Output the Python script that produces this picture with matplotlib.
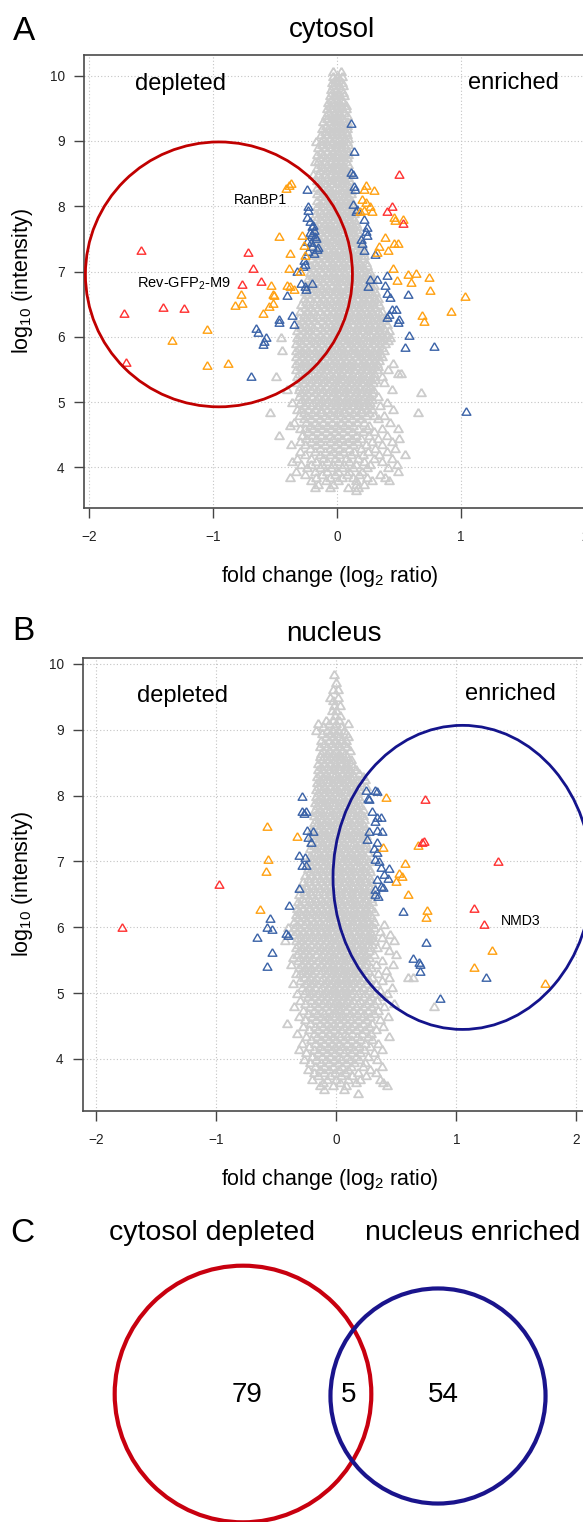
import matplotlib
matplotlib.use('Agg')
import matplotlib.pyplot as plt
from matplotlib.patches import Ellipse, Circle
import numpy as np

plt.rcParams['font.family'] = ['Liberation Sans', 'DejaVu Sans']
plt.rcParams['mathtext.fontset'] = 'custom'
plt.rcParams['mathtext.rm'] = 'Liberation Sans'
plt.rcParams['mathtext.it'] = 'Liberation Sans:italic'
plt.rcParams['mathtext.bf'] = 'Liberation Sans:bold'

# ---------------- data ----------------
x_ticks = [-2, -1, 0, 1, 2]
x_tick_labels = ['\u22122', '\u22121', '0', '1', '2']
y_ticks = [4, 5, 6, 7, 8, 9, 10]

# background proteins, cytosol: intensity level -> fold changes (x100)
gray_a_rows = {
    10.07: [-3, 3], 10.0: [-3, 1, 4], 9.95: [-2, 2], 9.9: [-4, 0, 4], 9.85: [-3, 2, 5],
    9.8: [-5, -1, 3], 9.75: [-4, 1, 5], 9.7: [-6, -2, 2, 6], 9.65: [-5, 0, 4],
    9.6: [-7, -3, 1, 5], 9.55: [-6, -1, 3, 7], 9.5: [-8, -4, 0, 4, 7], 9.45: [-7, -2, 2, 6],
    9.4: [-9, -5, -1, 3, 8], 9.35: [-8, -3, 1, 5], 9.3: [-11, -6, -2, 2, 6, 8],
    9.25: [-9, -4, 0, 4, 8], 9.2: [-12, -7, -3, 1, 5, 8], 9.15: [-10, -5, -1, 3, 7],
    9.1: [-13, -8, -4, 0, 4, 8], 9.05: [-11, -6, -2, 2, 6, 9], 9.0: [-17, -13, -9, -4, 0, 4, 8],
    8.95: [-12, -7, -2, 2, 6, 9], 8.9: [-15, -10, -5, -1, 3, 7], 8.85: [-13, -8, -3, 1, 5, 9],
    8.8: [-16, -11, -6, -2, 2, 6, 9], 8.75: [-14, -9, -4, 0, 4, 8], 8.7: [-18, -15, -10, -5, -1, 3, 7],
    8.65: [-13, -8, -3, 1, 5, 9], 8.6: [-16, -11, -6, -2, 2, 6], 8.55: [-14, -9, -4, 0, 4, 8],
    8.5: [-19, -15, -10, -5, -1, 3, 7, 10], 8.45: [-13, -8, -3, 1, 5, 9],
    8.4: [-16, -11, -6, -2, 2, 6, 10], 8.35: [-14, -9, -4, 0, 4, 8],
    8.3: [-16, -12, -7, -2, 2, 6, 10], 8.25: [-14, -9, -5, 0, 4, 8, 11],
    8.2: [-16, -11, -6, -2, 2, 7, 11], 8.15: [-13, -8, -4, 0, 5, 9],
    8.1: [-16, -11, -6, -1, 3, 7, 11], 8.05: [-14, -9, -4, 1, 5, 9, 12],
    8.0: [-16, -12, -7, -2, 2, 6, 10, 13], 7.95: [-14, -9, -5, 0, 4, 8, 12],
    7.9: [-17, -12, -7, -3, 2, 6, 10, 14], 7.85: [-15, -10, -5, -1, 3, 8, 12],
    7.8: [-17, -13, -8, -3, 1, 5, 10, 14], 7.75: [-15, -10, -6, -1, 3, 7, 12, 15],
    7.7: [-17, -12, -8, -4, 1, 5, 9, 13, 16], 7.65: [-15, -10, -6, -2, 3, 7, 11, 15],
    7.6: [-18, -13, -8, -4, 0, 5, 9, 13, 17], 7.55: [-16, -11, -6, -2, 2, 7, 11, 15],
    7.5: [-18, -14, -9, -4, 0, 4, 9, 13, 17, 19], 7.45: [-16, -11, -7, -2, 2, 6, 11, 15, 18],
    7.4: [-19, -14, -9, -5, 0, 4, 8, 13, 17, 20], 7.35: [-17, -12, -7, -3, 2, 6, 10, 15, 19],
    7.3: [-19, -15, -10, -5, -1, 4, 8, 12, 17, 21], 7.25: [-17, -12, -8, -3, 1, 6, 10, 14, 19, 22],
    7.2: [-20, -15, -10, -6, -1, 3, 8, 12, 16, 21], 7.15: [-18, -13, -8, -4, 1, 5, 10, 14, 18, 23],
    7.1: [-21, -16, -11, -6, -2, 3, 7, 12, 16, 20, 24], 7.05: [-19, -14, -9, -4, 0, 5, 9, 14, 18, 22],
    7.0: [-22, -17, -12, -7, -3, 2, 6, 11, 15, 20, 24, 27],
    6.95: [-20, -15, -10, -5, -1, 4, 8, 13, 17, 22, 26],
    6.9: [-23, -18, -13, -8, -3, 1, 6, 10, 15, 19, 24, 28],
    6.85: [-21, -16, -11, -6, -1, 3, 8, 12, 17, 21, 26],
    6.8: [-24, -19, -14, -9, -4, 0, 5, 9, 14, 18, 23, 27, 30],
    6.75: [-22, -17, -12, -7, -2, 2, 7, 11, 16, 20, 25, 29],
    6.7: [-26, -21, -15, -10, -5, -1, 4, 8, 13, 17, 22, 26, 31],
    6.65: [-24, -18, -13, -8, -3, 2, 6, 11, 15, 20, 24, 29],
    6.6: [-27, -22, -16, -11, -6, -1, 3, 8, 12, 17, 21, 26, 30, 33],
    6.55: [-25, -19, -14, -9, -4, 1, 5, 10, 14, 19, 23, 28, 32],
    6.5: [-29, -23, -18, -12, -7, -2, 2, 7, 11, 16, 20, 25, 29, 34],
    6.45: [-26, -21, -15, -10, -5, 0, 4, 9, 13, 18, 22, 27, 31],
    6.4: [-30, -24, -19, -14, -8, -3, 1, 6, 10, 15, 19, 24, 28, 33, 36],
    6.35: [-27, -22, -17, -11, -6, -1, 3, 8, 12, 17, 21, 26, 30, 35],
    6.3: [-31, -25, -20, -15, -9, -4, 0, 5, 9, 14, 18, 23, 27, 32, 36, 39],
    6.25: [-28, -23, -18, -12, -7, -2, 2, 7, 11, 16, 20, 25, 29, 34, 38],
    6.2: [-31, -26, -21, -16, -10, -5, -1, 4, 8, 13, 17, 22, 26, 31, 35, 40],
    6.15: [-29, -24, -19, -13, -8, -3, 1, 6, 10, 15, 19, 24, 28, 33, 37],
    6.1: [-32, -27, -22, -17, -11, -6, -2, 3, 7, 12, 16, 21, 25, 30, 34, 39, 42],
    6.05: [-30, -25, -20, -14, -9, -4, 0, 5, 9, 14, 18, 23, 27, 32, 36, 40],
    6.0: [-45, -32, -27, -22, -16, -11, -6, -2, 3, 7, 12, 16, 21, 25, 30, 34, 38, 43],
    5.95: [-30, -25, -19, -14, -9, -4, 0, 5, 9, 14, 18, 23, 27, 31, 36, 41],
    5.9: [-33, -28, -22, -17, -12, -7, -3, 2, 7, 11, 16, 20, 25, 29, 34, 39],
    5.85: [-31, -26, -20, -15, -10, -5, 0, 4, 9, 13, 18, 22, 27, 32, 36],
    5.8: [-44, -33, -28, -23, -18, -13, -8, -3, 2, 6, 11, 15, 20, 24, 29, 34, 38],
    5.75: [-31, -26, -21, -16, -11, -6, -1, 4, 8, 13, 17, 22, 27, 31, 35],
    5.7: [-33, -28, -23, -18, -14, -9, -4, 1, 5, 10, 15, 19, 24, 28, 33, 36],
    5.65: [-31, -26, -21, -16, -11, -6, -2, 3, 7, 12, 17, 21, 26, 30, 34],
    5.6: [-33, -28, -24, -19, -14, -9, -4, 0, 5, 10, 14, 19, 23, 28, 32, 45],
    5.55: [-30, -25, -21, -16, -11, -7, -2, 3, 7, 12, 16, 21, 25, 30, 33],
    5.5: [-33, -28, -23, -18, -13, -9, -4, 1, 5, 10, 14, 19, 24, 28, 32, 41],
    5.45: [-31, -26, -20, -15, -11, -6, -1, 3, 8, 12, 17, 21, 26, 30, 49, 52],
    5.4: [-49, -32, -27, -22, -17, -12, -7, -3, 2, 6, 11, 16, 20, 25, 29, 36],
    5.35: [-30, -25, -20, -15, -10, -5, 0, 4, 9, 13, 18, 22, 27, 31],
    5.3: [-32, -27, -22, -17, -12, -7, -2, 2, 7, 11, 16, 20, 25, 29, 38],
    5.25: [-30, -24, -19, -14, -9, -4, 0, 5, 9, 14, 18, 23, 27],
    5.2: [-40, -31, -26, -21, -16, -11, -6, -2, 3, 7, 12, 16, 21, 25, 29, 44],
    5.15: [-29, -24, -18, -13, -8, -3, 1, 6, 10, 15, 19, 24, 28, 68],
    5.1: [-31, -26, -20, -15, -10, -5, -1, 4, 8, 13, 17, 22, 26, 33],
    5.05: [-28, -23, -17, -12, -7, -2, 2, 7, 11, 16, 20, 25, 28],
    5.0: [-36, -30, -25, -19, -14, -9, -4, 0, 5, 9, 14, 18, 23, 27, 40],
    4.95: [-27, -21, -16, -11, -6, -1, 3, 8, 12, 17, 21, 26, 35],
    4.9: [-32, -29, -23, -18, -13, -8, -3, 1, 6, 10, 15, 19, 24, 28, 45],
    4.85: [-54, -27, -20, -13, -6, 0, 6, 13, 19, 26, 65],
    4.8: [-31, -24, -17, -10, -3, 3, 10, 16, 23, 30, 38],
    4.75: [-27, -21, -14, -7, -1, 6, 12, 19, 33],
    4.7: [-35, -25, -18, -11, -4, 3, 9, 16, 22, 43],
    4.65: [-38, -22, -15, -8, -1, 6, 13, 26],
    4.6: [-30, -26, -19, -12, -5, 2, 9, 17, 24, 36, 49],
    4.55: [-23, -16, -9, -2, 5, 12, 21, 30],
    4.5: [-47, -28, -20, -13, -6, 1, 8, 15, 26, 40],
    4.45: [-25, -17, -10, -3, 4, 12, 19, 33, 50],
    4.4: [-30, -21, -14, -6, 1, 9, 16, 28, 44],
    4.35: [-37, -26, -17, -10, -2, 6, 13, 23, 36],
    4.3: [-22, -14, -6, 2, 10, 19, 31, 47],
    4.25: [-30, -18, -10, -3, 5, 14, 25, 40],
    4.2: [-26, -14, -6, 2, 11, 21, 34, 55],
    4.15: [-32, -21, -11, -2, 7, 17, 30, 44],
    4.1: [-36, -17, -8, 1, 10, 22, 36],
    4.05: [-29, -21, -12, -3, 6, 15, 27, 48],
    4.0: [-24, -14, -5, 4, 13, 24, 41],
    3.95: [-33, -18, -8, 1, 10, 20, 49],
    3.9: [-26, -12, -2, 8, 18, 35],
    3.85: [-38, -17, -6, 4, 13, 24, 39],
    3.8: [-21, -9, 1, 15, 28, 42],
    3.75: [-15, -3, 15, 22],
    3.7: [-18, -6, 9, 17],
    3.65: [15],
}

blue_a_x = [0.11, 0.14, 0.115, 0.13, 0.135, 0.145, -0.24, 0.125, 0.16, 0.15, 0.215, 0.245, 0.235,
            0.245, 0.19, 0.205, 0.22, 0.305, -0.23, -0.235, -0.245, -0.215, -0.2, -0.185, -0.205,
            -0.17, -0.245, -0.2, -0.155, -0.23, -0.185, -0.26, -0.275, -0.32, -0.29, -0.26, -0.205,
            -0.25, -0.40, -0.47, -0.47, -0.36, -0.35, -0.655, -0.64, -0.57, -0.59, -0.60, -0.695,
            0.405, 0.325, 0.265, 0.25, 0.385, 0.40, 0.425, 0.575, 0.445, 0.475, 0.42, 0.405, 0.50,
            0.49, 0.58, 0.545, 0.78, 1.04, -0.16, -0.18, -0.19, -0.22, -0.21, -0.265]
blue_a_y = [9.27, 8.85, 8.53, 8.49, 8.31, 8.26, 8.27, 8.03, 7.96, 7.92, 7.81, 7.68, 7.62,
            7.56, 7.50, 7.43, 7.33, 7.27, 8.0, 7.95, 7.83, 7.77, 7.69, 7.64, 7.57,
            7.52, 7.47, 7.39, 7.37, 7.31, 7.29, 7.11, 7.08, 7.01, 6.83, 6.78, 6.83,
            6.73, 6.64, 6.28, 6.23, 6.33, 6.19, 6.13, 6.08, 5.99, 5.94, 5.89, 5.40,
            6.94, 6.88, 6.88, 6.78, 6.79, 6.67, 6.61, 6.66, 6.42, 6.42, 6.35, 6.31, 6.27,
            6.22, 6.03, 5.85, 5.86, 4.87, 7.35, 7.55, 7.72, 7.60, 7.45, 7.17]

orange_a_x = [-0.41, -0.39, -0.37, -0.47, -0.28, -0.38, -0.27, -0.26, -0.39, -0.30, -0.535, -0.40,
              -0.38, -0.35, -0.515, -0.775, -0.765, -0.82, -0.51, -0.545, -0.52, -0.595, -1.045,
              -1.33, -1.05, -0.875, 0.235, 0.22, 0.295, 0.205, 0.235, 0.265, 0.22, 0.185, 0.28,
              0.46, 0.465, 0.53, 0.385, 0.46, 0.49, 0.34, 0.415, 0.325, 0.45, 0.575, 0.635, 0.74,
              0.485, 0.60, 0.75, 1.03, 0.92, 0.685, 0.70]
orange_a_y = [8.28, 8.33, 8.35, 7.54, 7.56, 7.29, 7.40, 7.26, 7.06, 7.01, 6.80, 6.79,
              6.78, 6.73, 6.65, 6.65, 6.51, 6.49, 6.64, 6.47, 6.51, 6.36, 6.12,
              5.95, 5.57, 5.60, 8.33, 8.26, 8.25, 8.11, 8.06, 8.0, 7.94, 7.93, 7.92,
              7.84, 7.79, 7.81, 7.53, 7.44, 7.43, 7.39, 7.33, 7.30, 7.06, 6.96, 6.98, 6.92,
              6.87, 6.84, 6.71, 6.63, 6.39, 6.34, 6.24]

red_a_x = [0.50, 0.44, 0.405, 0.535, -1.58, -0.715, -0.68, -0.765, -0.61, -1.40, -1.23, -1.72, -1.70]
red_a_y = [8.50, 8.0, 7.92, 7.74, 7.33, 7.30, 7.06, 6.81, 6.85, 6.46, 6.44, 6.36, 5.62]

# background proteins, nucleus
gray_b_rows = {
    9.85: [-2], 9.72: [0], 9.62: [-3, 1], 9.5: [-5, 1], 9.45: [-3], 9.38: [-2, 3],
    9.3: [-4, 0], 9.22: [-1, 3], 9.15: [-9, -3, 2], 9.1: [-15, -6, 0, 10],
    9.05: [-11, -2, 4], 9.0: [-17, -8, -3, 1, 6], 8.95: [-12, -5, 0, 8],
    8.9: [-9, -3, 2, 10], 8.85: [-13, -6, -1, 4, 8], 8.8: [-10, -4, 1, 6],
    8.75: [-14, -8, -2, 3, 9], 8.7: [-11, -6, 0, 5, 11], 8.65: [-13, -8, -3, 2, 7],
    8.6: [-14, -10, -5, 0, 4, 9], 8.55: [-12, -7, -2, 3, 7, 12],
    8.5: [-15, -10, -5, -1, 4, 8, 12], 8.45: [-13, -8, -3, 1, 6, 10, 14],
    8.4: [-15, -11, -6, -2, 3, 7, 11, 16], 8.35: [-14, -9, -4, 0, 5, 9, 13, 19],
    8.3: [-16, -11, -7, -2, 2, 7, 11, 15, 22], 8.25: [-14, -9, -5, 0, 4, 9, 13, 18, 24],
    8.2: [-16, -12, -7, -3, 2, 6, 11, 15, 20], 8.15: [-15, -10, -5, -1, 4, 8, 13, 17, 25],
    8.1: [-17, -12, -8, -3, 1, 6, 10, 15, 19], 8.05: [-15, -10, -6, -1, 3, 8, 12, 17],
    8.0: [-17, -13, -8, -4, 1, 5, 10, 14, 18], 7.95: [-15, -11, -6, -2, 3, 7, 12, 16, 20],
    7.9: [-18, -13, -9, -4, 0, 5, 9, 14, 18], 7.85: [-16, -11, -7, -2, 2, 7, 11, 16, 20],
    7.8: [-18, -14, -9, -5, 0, 4, 9, 13, 18, 22], 7.75: [-16, -12, -7, -3, 2, 6, 11, 15, 20],
    7.7: [-19, -14, -10, -5, -1, 4, 8, 13, 17, 22], 7.65: [-17, -12, -8, -3, 1, 6, 10, 15, 19, 23],
    7.6: [-19, -15, -10, -6, -1, 3, 8, 12, 17, 21], 7.55: [-17, -13, -8, -4, 1, 5, 10, 14, 19, 23],
    7.5: [-20, -15, -11, -6, -2, 3, 7, 12, 16, 21, 24], 7.45: [-18, -13, -9, -4, 0, 5, 9, 14, 18, 23],
    7.4: [-20, -16, -11, -7, -2, 2, 7, 11, 16, 20, 25], 7.35: [-18, -14, -9, -5, 0, 4, 9, 13, 18, 22],
    7.3: [-21, -16, -12, -7, -3, 2, 6, 11, 15, 20, 24], 7.25: [-19, -14, -10, -5, -1, 4, 8, 13, 17, 22, 25],
    7.2: [-22, -17, -12, -8, -3, 1, 6, 10, 15, 19, 24], 7.15: [-19, -15, -10, -6, -1, 3, 8, 12, 17, 21, 26],
    7.1: [-22, -17, -13, -8, -4, 1, 5, 10, 14, 19, 23], 7.05: [-20, -15, -11, -6, -2, 3, 7, 12, 16, 21, 25],
    7.0: [-23, -18, -13, -9, -4, 0, 5, 9, 14, 18, 23, 27],
    6.95: [-21, -16, -11, -7, -2, 2, 7, 11, 16, 20, 25],
    6.9: [-24, -19, -14, -9, -5, 0, 4, 9, 13, 18, 22, 27],
    6.85: [-22, -17, -12, -7, -3, 2, 6, 11, 15, 20, 24, 28],
    6.8: [-26, -21, -16, -11, -6, -1, 3, 8, 12, 17, 21, 26],
    6.75: [-24, -19, -14, -9, -4, 1, 5, 10, 14, 19, 23, 28],
    6.7: [-28, -23, -18, -12, -7, -3, 2, 6, 11, 15, 20, 24, 29],
    6.65: [-25, -20, -15, -10, -5, 0, 4, 9, 13, 18, 22, 27],
    6.6: [-30, -25, -19, -14, -9, -4, 1, 5, 10, 14, 19, 23, 28],
    6.55: [-27, -22, -17, -11, -6, -2, 3, 7, 12, 16, 21, 25, 30],
    6.5: [-31, -26, -21, -15, -10, -5, -1, 4, 8, 13, 17, 22, 26],
    6.45: [-29, -23, -18, -13, -8, -3, 2, 6, 11, 15, 20, 24, 29],
    6.4: [-32, -27, -22, -17, -11, -6, -2, 3, 7, 12, 16, 21, 25, 30],
    6.35: [-30, -24, -19, -14, -9, -4, 0, 5, 9, 14, 18, 23, 27],
    6.3: [-33, -28, -23, -17, -12, -7, -3, 2, 6, 11, 15, 20, 24, 29],
    6.25: [-31, -25, -20, -15, -10, -5, -1, 4, 8, 13, 17, 22, 26, 31],
    6.2: [-34, -29, -24, -18, -13, -8, -4, 1, 5, 10, 14, 19, 23, 28],
    6.15: [-32, -26, -21, -16, -11, -6, -2, 3, 7, 12, 16, 21, 25, 30],
    6.1: [-35, -30, -25, -19, -14, -9, -5, 0, 4, 9, 13, 18, 22, 27, 31],
    6.05: [-33, -27, -22, -17, -12, -7, -3, 2, 6, 11, 15, 20, 24, 29, 40],
    6.0: [-40, -35, -30, -24, -19, -14, -9, -5, 0, 4, 9, 13, 18, 22, 26, 31],
    5.95: [-33, -28, -23, -18, -13, -8, -3, 1, 6, 10, 15, 19, 24, 28, 36],
    5.9: [-35, -30, -25, -20, -15, -10, -6, -1, 3, 8, 12, 17, 21, 26, 30, 45],
    5.85: [-32, -27, -22, -17, -12, -7, -2, 2, 7, 11, 16, 20, 25, 29, 38],
    5.8: [-43, -34, -29, -24, -19, -14, -9, -4, 0, 5, 9, 14, 18, 23, 27, 31, 48],
    5.75: [-32, -27, -21, -16, -11, -6, -1, 3, 8, 12, 17, 21, 26, 30, 41],
    5.7: [-34, -29, -24, -18, -13, -8, -4, 1, 5, 10, 14, 19, 23, 28, 34],
    5.65: [-31, -26, -21, -15, -10, -5, 0, 4, 9, 13, 18, 22, 27, 44],
    5.6: [-33, -28, -23, -17, -12, -7, -3, 2, 6, 11, 15, 20, 24, 31, 50],
    5.55: [-36, -30, -25, -20, -14, -9, -4, 0, 5, 9, 14, 18, 23, 27],
    5.5: [-32, -27, -22, -16, -11, -6, -2, 3, 7, 12, 16, 21, 25, 38],
    5.45: [-38, -29, -24, -19, -13, -8, -3, 1, 6, 10, 15, 19, 24, 33, 47],
    5.4: [-31, -26, -21, -15, -10, -5, -1, 4, 8, 13, 17, 22, 29],
    5.35: [-28, -23, -18, -12, -7, -2, 2, 7, 11, 16, 20, 26, 41],
    5.3: [-34, -30, -25, -20, -14, -9, -4, 0, 5, 9, 14, 18, 24, 35],
    5.25: [-27, -22, -17, -11, -6, -1, 3, 8, 12, 17, 22, 30, 44, 60, 64],
    5.2: [-30, -24, -19, -13, -8, -3, 1, 6, 10, 15, 20, 27, 38],
    5.15: [-36, -26, -21, -16, -10, -5, 0, 4, 9, 13, 18, 25, 33],
    5.1: [-29, -23, -18, -12, -7, -2, 2, 7, 11, 16, 22, 29, 46],
    5.05: [-25, -20, -14, -9, -4, 0, 5, 9, 14, 20, 27, 36],
    5.0: [-33, -27, -22, -16, -11, -6, -1, 3, 8, 12, 18, 24, 31, 42],
    4.95: [-24, -19, -13, -8, -3, 1, 6, 10, 16, 22, 29, 39],
    4.9: [-30, -21, -15, -10, -5, 0, 4, 9, 14, 20, 27, 34],
    4.85: [-26, -18, -12, -7, -2, 2, 7, 12, 18, 25, 31, 48],
    4.8: [-35, -22, -15, -9, -4, 1, 5, 10, 16, 22, 29, 40, 81],
    4.75: [-28, -19, -12, -6, -1, 3, 8, 14, 20, 26, 35],
    4.7: [-24, -16, -10, -4, 0, 5, 11, 17, 23, 31],
    4.65: [-31, -20, -13, -7, -2, 3, 8, 14, 21, 28, 43],
    4.6: [-26, -17, -10, -5, 1, 6, 12, 18, 25, 36],
    4.55: [-41, -22, -14, -8, -2, 3, 9, 15, 22, 30],
    4.5: [-28, -18, -11, -5, 0, 6, 12, 19, 27, 39],
    4.45: [-23, -15, -8, -2, 4, 10, 16, 24, 33],
    4.4: [-33, -19, -12, -6, 1, 7, 13, 21, 29],
    4.35: [-25, -16, -9, -3, 3, 9, 17, 26, 44],
    4.3: [-21, -13, -6, 0, 6, 12, 20, 30],
    4.25: [-29, -18, -10, -4, 2, 9, 16, 24, 35],
    4.2: [-23, -14, -7, -1, 5, 12, 19, 28],
    4.15: [-31, -19, -11, -4, 2, 8, 15, 23, 38],
    4.1: [-25, -15, -8, -1, 6, 12, 20, 31],
    4.05: [-20, -12, -5, 2, 9, 16, 26],
    4.0: [-27, -17, -9, -2, 4, 11, 19, 34],
    3.95: [-22, -13, -6, 1, 8, 15, 24],
    3.9: [-18, -10, -3, 5, 12, 22, 38],
    3.85: [-24, -14, -6, 2, 10, 28],
    3.8: [-19, -10, -1, 7, 18, 33],
    3.75: [-15, -5, 4, 13, 25],
    3.7: [-20, -8, 0, 10, 20, 36],
    3.65: [-11, 3, 16, 39],
    3.6: [-14, -3, 8, 42],
    3.55: [-10, 6],
    3.48: [18],
}

blue_b_x = [-0.285, -0.285, -0.27, -0.25, -0.245, -0.195, -0.24, -0.215, -0.31, -0.265, -0.285, -0.25,
            -0.31, -0.395, -0.55, -0.58, -0.54, -0.665, -0.42, -0.40, -0.54, -0.58,
            0.245, 0.325, 0.34, 0.27, 0.26, 0.30, 0.34, 0.37, 0.32, 0.27, 0.335, 0.38, 0.255,
            0.335, 0.31, 0.34, 0.325, 0.355, 0.37, 0.44, 0.395, 0.43, 0.34, 0.37, 0.325, 0.385,
            0.32, 0.35, 0.555, 0.75, 0.64, 0.69, 0.70, 0.70, 1.25, 0.86]
blue_b_y = [7.99, 7.77, 7.73, 7.76, 7.48, 7.47, 7.37, 7.29, 7.10, 7.07, 6.95, 6.94,
            6.59, 6.34, 6.14, 6.0, 5.97, 5.86, 5.92, 5.89, 5.63, 5.41,
            8.08, 8.09, 8.07, 7.95, 7.97, 7.76, 7.68, 7.67, 7.61, 7.47, 7.48, 7.46, 7.34,
            7.29, 7.20, 7.14, 7.04, 7.01, 6.92, 6.90, 6.81, 6.75, 6.73, 6.63, 6.58, 6.61,
            6.51, 6.48, 6.25, 5.78, 5.54, 5.47, 5.44, 5.34, 5.25, 4.93]

orange_b_x = [-0.575, -0.33, -0.57, -0.585, -0.64, 0.41, 0.39, 0.68, 0.575, 0.52, 0.55, 0.50,
              0.60, 0.757, 0.75, 1.30, 1.15, 1.74]
orange_b_y = [7.54, 7.38, 7.04, 6.85, 6.28, 7.98, 7.22, 7.25, 6.97, 6.82, 6.78, 6.71,
              6.51, 6.26, 6.15, 5.66, 5.39, 5.16]

red_b_x = [-1.785, -0.98, 0.735, 0.715, 0.73, 1.345, 1.15, 1.23]
red_b_y = [6.0, 6.66, 7.95, 7.29, 7.31, 7.0, 6.29, 6.05]

venn_names = ['cytosol depleted', 'nucleus enriched']
venn_only = [79, 54]
venn_both = 5

# ---------------- style ----------------
W, H = 583, 1522
GRAY = '#cccccc'
BLUE = '#3a62a7'
ORANGE = '#ffa010'
RED = '#ff3030'
DARKRED = '#c00000'
NAVY = '#14148c'
TRI = [(0, 0.85), (-1, -0.85), (1, -0.85), (0, 0.85)]


def rows_to_xy(rows):
    xs, ys = [], []
    for level, fcs in rows.items():
        for fc in fcs:
            xs.append(fc / 100.0)
            ys.append(level)
    return xs, ys


def px(x, y):
    return x / W, 1 - y / H


def scatter_panel(ax, gray_rows, series, xlim, ylim):
    gx, gy = rows_to_xy(gray_rows)
    ax.plot(gx, gy, ls='none', marker=TRI, ms=6.4, mfc='none', mec=GRAY, mew=1.3)
    for xs, ys, c in series:
        ax.plot(xs, ys, ls='none', marker=TRI, ms=6.3, mfc='none', mec=c, mew=1.0)
    ax.set_xlim(xlim)
    ax.set_ylim(ylim)
    ax.set_xticks(x_ticks)
    ax.set_xticklabels(x_tick_labels)
    ax.set_yticks(y_ticks)
    ax.set_yticklabels([str(v) for v in y_ticks])
    ax.grid(True, color='#c4c4c4', linestyle=(0, (1, 2)), linewidth=0.8)
    ax.set_axisbelow(True)
    ax.tick_params(direction='out', length=7, width=1, color='#444444',
                   labelsize=9.8, labelcolor='#222222')
    ax.tick_params(axis='x', pad=9)
    ax.tick_params(axis='y', pad=7)
    for s in ax.spines.values():
        s.set_color('#4a4a4a')
        s.set_linewidth(1.2)


fig = plt.figure(figsize=(W / 100, H / 100), dpi=100)

# panel A
ax_a = fig.add_axes([84 / W, 1 - 508 / H, 506 / W, 453 / H])
scatter_panel(ax_a, gray_a_rows,
              [(blue_a_x, blue_a_y, BLUE), (orange_a_x, orange_a_y, ORANGE), (red_a_x, red_a_y, RED)],
              (-2.04, 2.04), (3.377, 10.317))
ax_a.add_patch(Ellipse((-0.952, 6.956), 2.153, 4.058, fill=False, ec=DARKRED, lw=2, zorder=5))
ax_a.text(-1.262, 9.78, 'depleted', fontsize=17, ha='center', va='baseline')
ax_a.text(1.419, 9.80, 'enriched', fontsize=17, ha='center', va='baseline')
ax_a.text(-0.615, 8.035, 'RanBP1', fontsize=10.3, ha='center', va='baseline')
ax_a.text(-1.234, 6.76, 'Rev-GFP$_2$-M9', fontsize=10.5, ha='center', va='baseline')

# panel B
ax_b = fig.add_axes([83 / W, 1 - 1111 / H, 507 / W, 453 / H])
scatter_panel(ax_b, gray_b_rows,
              [(blue_b_x, blue_b_y, BLUE), (orange_b_x, orange_b_y, ORANGE), (red_b_x, red_b_y, RED)],
              (-2.1125, 2.1125), (3.21, 10.09))
ax_b.add_patch(Ellipse((1.05, 6.758), 2.158, 4.618, fill=False, ec=NAVY, lw=2, zorder=5))
ax_b.text(-1.283, 9.42, 'depleted', fontsize=17, ha='center', va='baseline')
ax_b.text(1.446, 9.45, 'enriched', fontsize=17, ha='center', va='baseline')
ax_b.text(1.535, 6.04, 'NMD3', fontsize=10.2, ha='center', va='baseline')

# titles and axis labels
fig.text(*px(24, 40), 'A', fontsize=24, ha='center', va='baseline')
fig.text(*px(331.5, 37), 'cytosol', fontsize=20, ha='center', va='baseline')
fig.text(*px(23, 640), 'B', fontsize=24, ha='center', va='baseline')
fig.text(*px(333.5, 641), 'nucleus', fontsize=20, ha='center', va='baseline')
fig.text(*px(330, 582), 'fold change (log$_2$ ratio)', fontsize=15.5, ha='center', va='baseline')
fig.text(*px(330, 1185), 'fold change (log$_2$ ratio)', fontsize=15.5, ha='center', va='baseline')
fig.text(*px(23, 281.5), 'log$_{10}$ (intensity)', fontsize=15.5, rotation=90, ha='center', va='center')
fig.text(*px(23, 884.5), 'log$_{10}$ (intensity)', fontsize=15.5, rotation=90, ha='center', va='center')

# panel C: Venn diagram (circle area ~ set size)
fig.text(*px(22, 1242), 'C', fontsize=24, ha='center', va='baseline')
fig.text(*px(212, 1240), venn_names[0], fontsize=20.5, ha='center', va='baseline')
fig.text(*px(473, 1240), venn_names[1], fontsize=20.5, ha='center', va='baseline')

ax_c = fig.add_axes([0, 0, 1, 300 / H])
ax_c.set_xlim(0, W)
ax_c.set_ylim(H, H - 300)
ax_c.axis('off')
k = 14.0
r_cyt = k * np.sqrt(venn_only[0] + venn_both)
r_nuc = k * np.sqrt(venn_only[1] + venn_both)
ax_c.add_patch(Circle((243, 1394), r_cyt, fill=False, ec='#c8000f', lw=3, clip_on=False))
ax_c.add_patch(Circle((438, 1396), r_nuc, fill=False, ec='#1a148c', lw=3, clip_on=False))
ax_c.text(247, 1395, str(venn_only[0]), fontsize=20, ha='center', va='center')
ax_c.text(349, 1395, str(venn_both), fontsize=20, ha='center', va='center')
ax_c.text(443, 1395, str(venn_only[1]), fontsize=20, ha='center', va='center')

fig.savefig('out.png', dpi=100)
